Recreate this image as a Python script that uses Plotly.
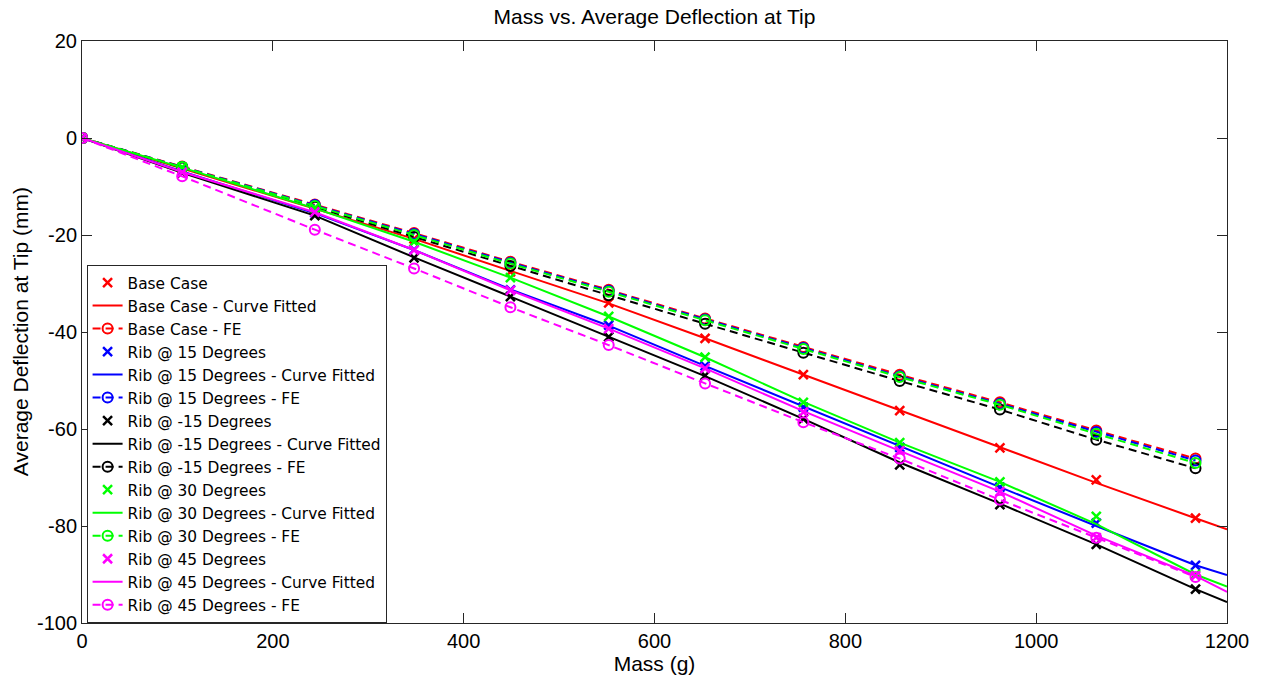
import plotly.graph_objects as go

# Applied mass at each load step (g)
mass = [0, 105, 244, 348, 449, 552, 653, 756, 857, 962, 1063, 1167]
# Mass points used for the fitted curves (extended to the axis limit)
fit_mass = [0, 105, 244, 348, 449, 552, 653, 756, 857, 962, 1063, 1167, 1200]

# Measured average tip deflection (mm)
base_meas = [0, -6.3, -14.6, -20.8, -27.6, -34.0, -41.3, -48.8, -56.2, -63.9, -70.5, -78.4]
rib15_meas = [0, -6.8, -15.4, -23.0, -31.3, -38.6, -47.0, -55.5, -63.8, -72.0, -79.4, -88.1]
ribm15_meas = [0, -7.2, -16.0, -24.7, -32.7, -41.0, -49.0, -57.9, -67.4, -75.6, -83.8, -93.0]
rib30_meas = [0, -6.0, -14.4, -21.4, -28.8, -36.8, -45.2, -54.5, -62.8, -70.9, -78.0, -90.0]
rib45_meas = [0, -7.1, -15.3, -23.1, -31.4, -39.3, -47.5, -56.5, -64.5, -72.9, -82.4, -90.3]

# Curve-fitted tip deflection (mm)
base_fit = [0, -6.3, -14.7, -20.8, -27.4, -34.1, -41.3, -48.8, -56.2, -63.8, -71.1, -78.4, -80.7]
rib15_fit = [0, -6.9, -15.5, -23.1, -31.2, -38.7, -47.0, -55.3, -63.6, -72.0, -80.0, -88.1, -90.1]
ribm15_fit = [0, -7.2, -16.0, -24.6, -32.7, -41.0, -49.1, -57.9, -66.9, -75.4, -83.8, -93.0, -95.7]
rib30_fit = [0, -6.1, -14.5, -21.4, -28.8, -36.8, -45.2, -54.4, -62.8, -70.9, -79.6, -90.0, -92.5]
rib45_fit = [0, -7.0, -15.3, -23.1, -31.4, -39.3, -47.5, -56.3, -64.5, -72.9, -82.0, -90.3, -93.6]

# Finite-element tip deflection (mm)
base_fe = [0, -5.9, -13.7, -19.6, -25.5, -31.3, -37.2, -43.1, -48.8, -54.5, -60.3, -66.1]
rib15_fe = [0, -6.0, -13.8, -19.8, -25.7, -31.5, -37.4, -43.3, -49.1, -54.8, -60.6, -66.5]
ribm15_fe = [0, -6.1, -14.2, -20.4, -26.4, -32.4, -38.3, -44.3, -50.1, -56.0, -62.2, -68.1]
rib30_fe = [0, -6.0, -14.0, -20.0, -25.9, -31.7, -37.6, -43.5, -49.3, -55.0, -61.0, -67.0]
rib45_fe = [0, -7.9, -18.9, -26.9, -34.9, -42.7, -50.6, -58.6, -66.1, -74.6, -82.4, -90.5]

# Axis ticks
x_ticks = [0, 200, 400, 600, 800, 1000, 1200]
y_ticks = [-100, -80, -60, -40, -20, 0, 20]

cases = [
    ("Base Case", "#ff0000", base_meas, base_fit, base_fe),
    ("Rib @ 15 Degrees", "#0000ff", rib15_meas, rib15_fit, rib15_fe),
    ("Rib @ -15 Degrees", "#000000", ribm15_meas, ribm15_fit, ribm15_fe),
    ("Rib @ 30 Degrees", "#00ff00", rib30_meas, rib30_fit, rib30_fe),
    ("Rib @ 45 Degrees", "#ff00ff", rib45_meas, rib45_fit, rib45_fe),
]

fig = go.Figure()
for name, color, meas, fit, fe in cases:
    fig.add_trace(go.Scatter(
        x=mass, y=meas, mode="markers", name=name,
        marker=dict(symbol="x-thin", size=9, line=dict(color=color, width=2.5), color=color),
    ))
    fig.add_trace(go.Scatter(
        x=fit_mass, y=fit, mode="lines", name=name + " - Curve Fitted",
        line=dict(color=color, width=2),
    ))
    fig.add_trace(go.Scatter(
        x=mass, y=fe, mode="lines+markers", name=name + " - FE",
        line=dict(color=color, width=2, dash="8px,5px"),
        marker=dict(symbol="circle-open", size=10, color=color, line=dict(width=2)),
    ))

narrow = "Liberation Sans Narrow, Arial Narrow, Liberation Sans, Arial, sans-serif"

axis_common = dict(
    showgrid=False, zeroline=False, showline=True, linecolor="#262626", linewidth=1,
    mirror="allticks", ticks="inside", ticklen=10, tickcolor="#262626",
    tickfont=dict(family=narrow, size=20, color="#000000"),
)

fig.update_layout(
    width=1261, height=679,
    paper_bgcolor="#ffffff", plot_bgcolor="#ffffff",
    margin=dict(l=82, r=34, t=41, b=52),
    title=dict(text="Mass vs. Average Deflection at Tip", x=0.519, xanchor="center",
               y=0.975, yanchor="middle",
               font=dict(family=narrow, size=21, color="#000000")),
    xaxis=dict(range=[0, 1200], tickmode="array", tickvals=x_ticks,
               ticktext=[str(v) for v in x_ticks],
               title=dict(text="Mass (g)", standoff=0, font=dict(family=narrow, size=21, color="#000000")),
               **axis_common),
    yaxis=dict(range=[-100, 20], tickmode="array", tickvals=y_ticks,
               ticktext=[str(v) for v in y_ticks],
               **axis_common),
    legend=dict(x=0.004, y=0.0, xanchor="left", yanchor="bottom",
                bgcolor="#ffffff", bordercolor="#262626", borderwidth=1,
                font=dict(family="DejaVu Sans, Liberation Sans, Arial, sans-serif", size=15.4, color="#000000"),
                tracegroupgap=0, itemwidth=30, entrywidth=320, entrywidthmode="pixels"),
    showlegend=True,
    annotations=[dict(
        text="Average Deflection at Tip (mm)", textangle=-90,
        xref="paper", yref="paper", x=-0.054, y=0.5, xanchor="center", yanchor="middle",
        showarrow=False, font=dict(family=narrow, size=21, color="#000000"),
    )],
)

fig.write_html("out.html")
